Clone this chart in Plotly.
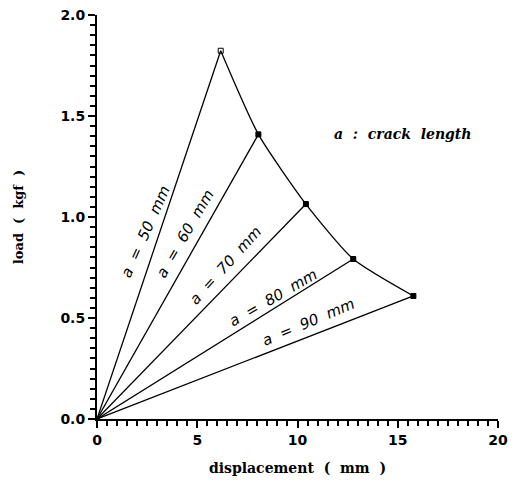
import plotly.graph_objects as go

# Data
crack_lengths = [50, 60, 70, 80, 90]          # mm
peak_disp = [6.17, 8.05, 10.42, 12.78, 15.78]  # mm
peak_load = [1.823, 1.409, 1.064, 0.792, 0.609]  # kgf

label_x = [2.44, 4.39, 6.43, 8.78, 10.57]
label_y = [0.93, 0.916, 0.762, 0.599, 0.480]
label_angle = [-66, -60, -48, -30, -23]

x_range = [0, 20]
y_range = [0, 2.0]

fig = go.Figure()

for a, xp, yp in zip(crack_lengths, peak_disp, peak_load):
    fig.add_trace(go.Scatter(x=[0, xp], y=[0, yp], mode="lines",
                             line=dict(color="black", width=1.3),
                             showlegend=False, hoverinfo="skip"))

fig.add_trace(go.Scatter(x=peak_disp, y=peak_load, mode="lines",
                         line=dict(color="black", width=1.3, shape="spline", smoothing=0.6),
                         showlegend=False))
fig.add_trace(go.Scatter(x=peak_disp, y=peak_load, mode="markers",
                         marker=dict(symbol=["square-open"] + ["square"] * 4, size=5,
                                     color="black", line=dict(color="black", width=1)),
                         showlegend=False))
fig.add_trace(go.Scatter(x=[0], y=[0], mode="markers",
                         marker=dict(symbol="square", size=5, color="black"),
                         showlegend=False))

lab_font = dict(family="DejaVu Sans", size=15, color="black")
for a, lx, ly, ang in zip(crack_lengths, label_x, label_y, label_angle):
    fig.add_annotation(x=lx, y=ly, text=f"<i>a  =  {a}  mm</i>", showarrow=False,
                       textangle=ang, font=lab_font)

fig.add_annotation(x=15.26, y=1.41, text="<b><i>a  :  crack  length</i></b>", showarrow=False,
                   font=dict(family="DejaVu Serif", size=14, color="black"))

fig.update_xaxes(range=x_range, tickmode="linear", tick0=0, dtick=5,
                 ticks="outside", ticklen=7, tickwidth=2, tickcolor="black",
                 showline=True, linecolor="black", linewidth=2,
                 showgrid=False, zeroline=False,
                 minor=dict(ticks="outside", dtick=0.5, tick0=0, ticklen=5,
                            tickwidth=1.5, tickcolor="black"),
                 tickfont=dict(family="DejaVu Sans", size=14, color="black", weight="bold"),
                 title=dict(text="<b>displacement  (  mm  )</b>", standoff=16,
                            font=dict(family="DejaVu Serif", size=14, color="black")))
fig.update_yaxes(range=y_range, tickmode="linear", tick0=0, dtick=0.5, tickformat=".1f",
                 ticks="outside", ticklen=7, tickwidth=2, tickcolor="black",
                 showline=True, linecolor="black", linewidth=2,
                 showgrid=False, zeroline=False,
                 minor=dict(ticks="outside", dtick=0.05, tick0=0, ticklen=5,
                            tickwidth=1.5, tickcolor="black"),
                 tickfont=dict(family="DejaVu Sans", size=14, color="black", weight="bold"),
                 title=dict(text="<b>load  (  kgf  )</b>", standoff=34,
                            font=dict(family="DejaVu Serif", size=13, color="black")))

fig.update_layout(width=516, height=489, margin=dict(l=97, r=18, t=15, b=70),
                  plot_bgcolor="white", paper_bgcolor="white", template="none")

fig.write_html("out.html")
